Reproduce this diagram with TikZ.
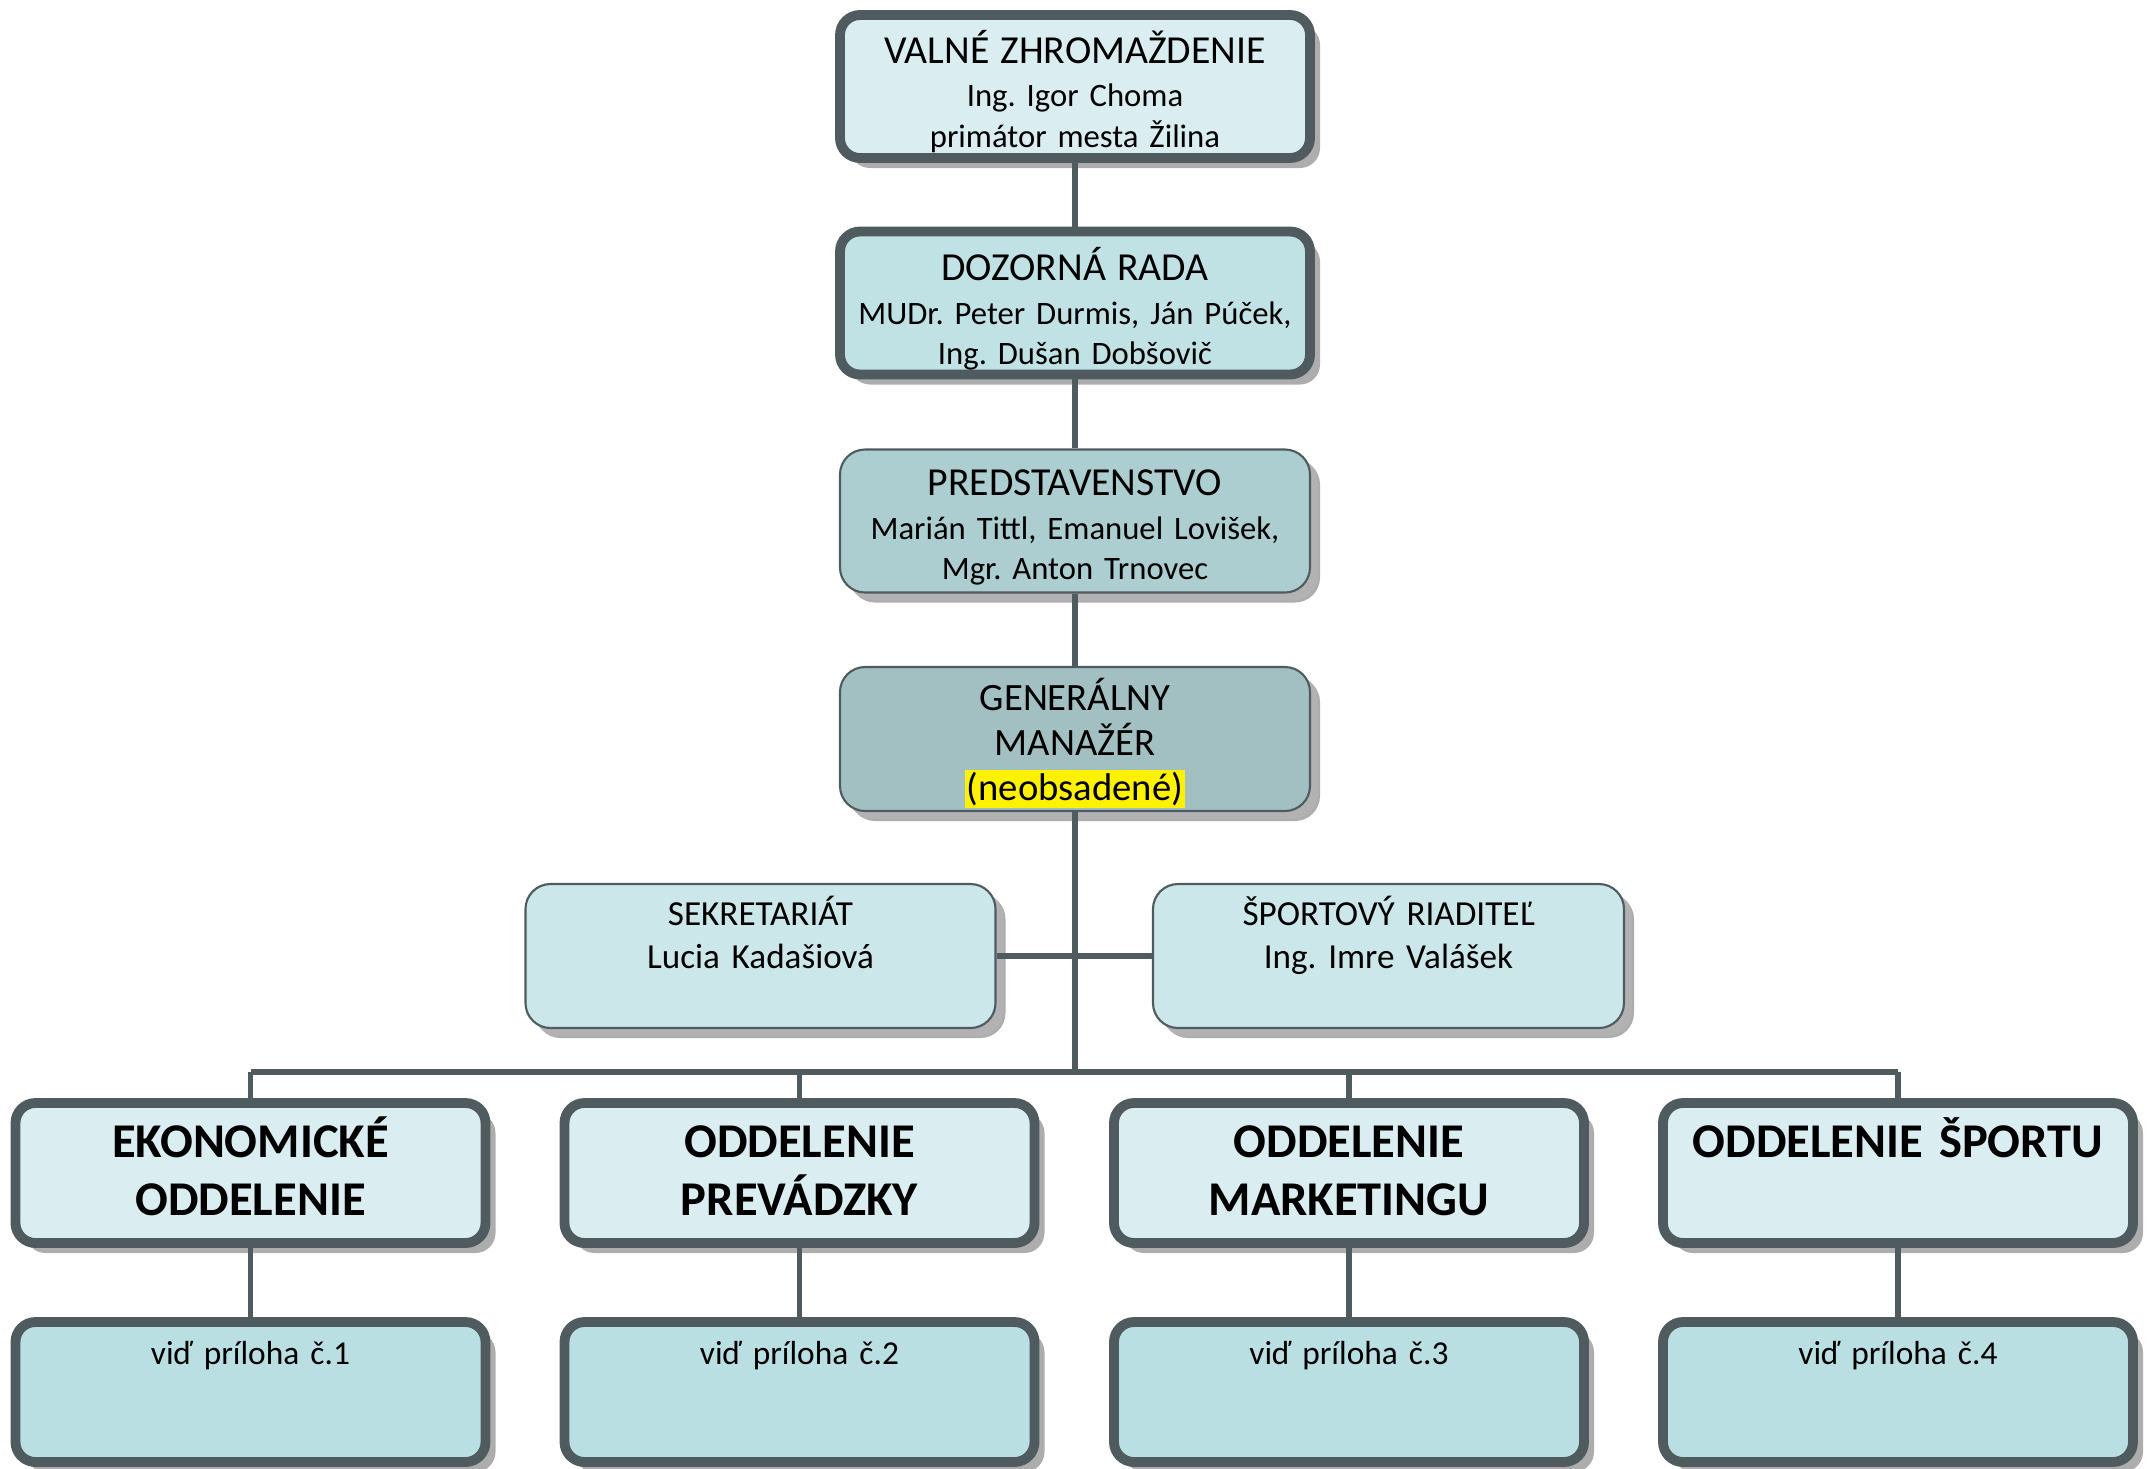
\documentclass[tikz,border=0pt]{standalone}
\usepackage{fontspec}
\setmainfont{Carlito}[WordSpace=0.75]
\definecolor{edgegray}{RGB}{79,91,94}
\definecolor{palecyan}{RGB}{218,238,241}
\definecolor{softcyan}{RGB}{193,226,229}
\definecolor{greycyan}{RGB}{173,206,209}
\definecolor{darkcyan}{RGB}{162,192,194}
\definecolor{sidecyan}{RGB}{203,231,234}
\definecolor{annexcyan}{RGB}{186,223,226}
\usetikzlibrary{shapes,arrows,positioning,calc,shadows}
\setlength{\fboxsep}{0.6pt}
\frenchspacing

\begin{document}
\begin{tikzpicture}[
    orgbox/.style={rounded corners=0.2cm, draw=edgegray, line width=2.8pt,
        minimum width=4.7cm, minimum height=1.43cm, inner sep=0pt,
        text width=4.7cm, align=center,
        font=\fontsize{9.3}{11.5}\selectfont,
        drop shadow={shadow xshift=0.1cm, shadow yshift=-0.1cm, fill=black!32, opacity=1}},
    thinbox/.style={orgbox, line width=0.6pt, rounded corners=0.25cm,
        drop shadow={shadow xshift=0.08cm, shadow yshift=-0.08cm, fill=black!30, opacity=1}},
    deptbox/.style={orgbox, minimum width=4.67cm, minimum height=1.40cm, fill=palecyan,
        font=\fontsize{13.8}{16.7}\selectfont\bfseries, text height=0.54cm, text depth=0.86cm},
    annexbox/.style={orgbox, minimum width=4.67cm, minimum height=1.40cm, fill=annexcyan,
        font=\fontsize{9.5}{11.5}\selectfont, text height=0.42cm, text depth=0.98cm},
    conn/.style={draw=edgegray, line width=1.7pt}
  ]
  \useasboundingbox (0,0) rectangle (21.52,-14.68);

  % governing bodies
  \node[orgbox, fill=palecyan, text height=0.48cm, text depth=0.95cm] (valne) at (10.75,-0.865)
    {{\fontsize{11.3}{13}\selectfont VALNÉ ZHROMAŽDENIE}\\[1pt] Ing. Igor Choma\\ primátor mesta Žilina};
  \node[orgbox, fill=softcyan, text height=0.49cm, text depth=0.94cm] (dozor) at (10.75,-3.03)
    {{\fontsize{11.3}{13}\selectfont DOZORNÁ RADA}\\[1pt] MUDr. Peter Durmis, Ján Púček,\\ Ing. Dušan Dobšovič};
  \node[thinbox, fill=greycyan, text height=0.46cm, text depth=0.97cm] (pred) at (10.75,-5.21)
    {{\fontsize{11.3}{13}\selectfont PREDSTAVENSTVO}\\[1pt] Marián Tittl, Emanuel Lovišek,\\ Mgr. Anton Trnovec};
  \node[thinbox, fill=darkcyan, font=\fontsize{11}{12.9}\selectfont,
        text height=0.43cm, text depth=1.01cm] (gen) at (10.75,-7.39)
    {GENERÁLNY\\ MANAŽÉR\\ \colorbox{yellow}{(neobsadené)}};

  % staff
  \node[thinbox, fill=sidecyan, minimum width=4.69cm, minimum height=1.44cm,
        font=\fontsize{10}{12.4}\selectfont,
        text height=0.41cm, text depth=1.03cm] (sekr) at (7.605,-9.56)
    {SEKRETARIÁT\\ Lucia Kadašiová};
  \node[thinbox, fill=sidecyan, minimum width=4.71cm, minimum height=1.44cm,
        font=\fontsize{10}{12.4}\selectfont,
        text height=0.41cm, text depth=1.03cm] (sport) at (13.885,-9.56)
    {ŠPORTOVÝ RIADITEĽ\\ Ing. Imre Valášek};

  % departments
  \node[deptbox] (ekon) at (2.505,-11.73) {EKONOMICKÉ\\ ODDELENIE};
  \node[deptbox] (prev) at (7.995,-11.73) {ODDELENIE\\ PREVÁDZKY};
  \node[deptbox] (mark) at (13.49,-11.73) {ODDELENIE\\ MARKETINGU};
  \node[deptbox] (sportodd) at (18.98,-11.73) {ODDELENIE ŠPORTU};

  \node[annexbox] (ekonA) at (2.505,-13.92) {viď príloha č.1};
  \node[annexbox] (prevA) at (7.995,-13.92) {viď príloha č.2};
  \node[annexbox] (markA) at (13.49,-13.92) {viď príloha č.3};
  \node[annexbox] (sportoddA) at (18.98,-13.92) {viď príloha č.4};

  % connectors
  \coordinate (bus) at (10.75,-10.72);
  \draw[conn] (valne.south) -- (dozor.north);
  \draw[conn] (dozor.south) -- (pred.north);
  \draw[conn] (pred.south) -- (gen.north);
  \draw[conn] (gen.south) -- (bus);
  \draw[conn] (sekr.east) -- (sport.west);
  \draw[conn] (ekon.north |- bus) -- (sportodd.north |- bus);
  \foreach \d in {ekon,prev,mark,sportodd} {
    \draw[conn] (\d.north |- bus) -- (\d.north);
    \draw[conn] (\d.south) -- (\d A.north);
  }
\end{tikzpicture}
\end{document}
